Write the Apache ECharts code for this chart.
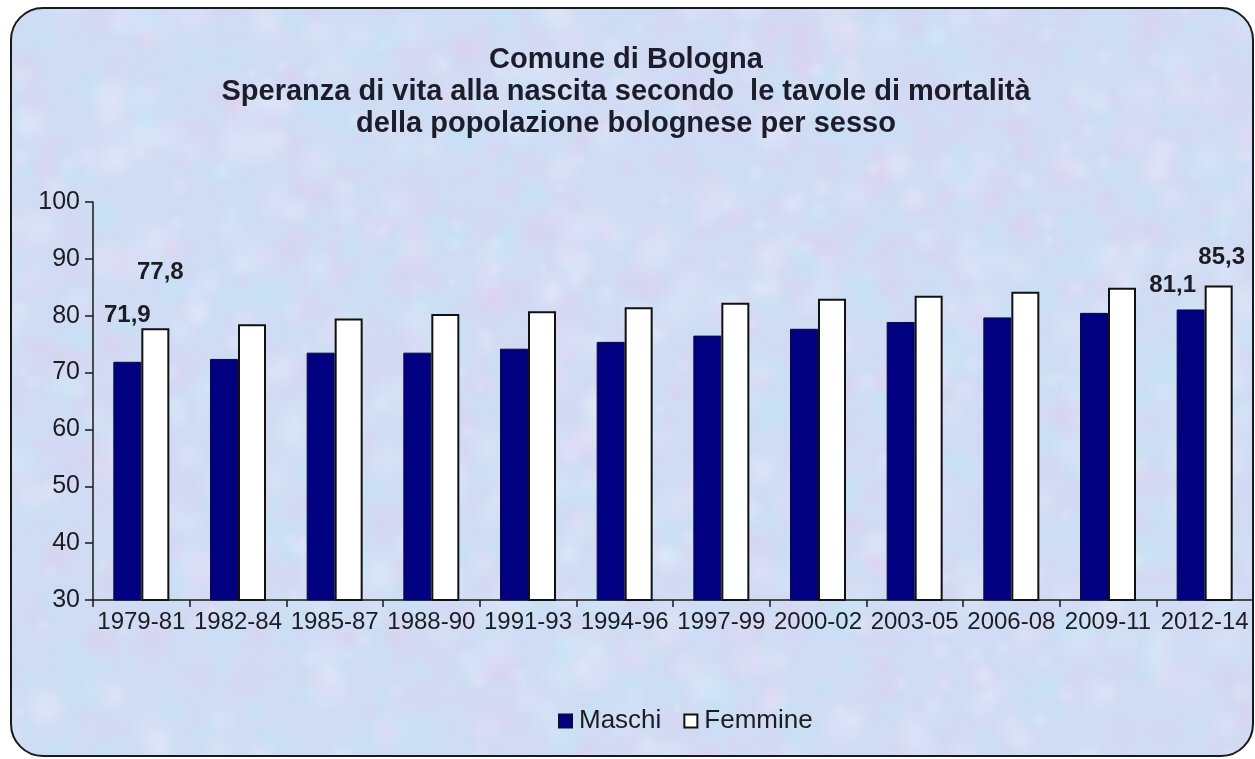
<!DOCTYPE html>
<html>
<head>
<meta charset="utf-8">
<title>Speranza di vita - Bologna</title>
<script src="https://cdn.jsdelivr.net/npm/echarts@6/dist/echarts.min.js"></script>
<style>
    html, body { margin: 0; padding: 0; background: #fff; }
    #main { width: 1255px; height: 759px; }
</style>
</head>
<body>
<div id="main"></div>
<script>
    'use strict';

    var periodi = ['1979-81', '1982-84', '1985-87', '1988-90', '1991-93', '1994-96',
                   '1997-99', '2000-02', '2003-05', '2006-08', '2009-11', '2012-14'];
    var maschi = [71.9, 72.4, 73.5, 73.5, 74.2, 75.4, 76.5, 77.7, 78.9, 79.7, 80.5, 81.1];
    var femmine = [77.8, 78.5, 79.5, 80.3, 80.8, 81.5, 82.3, 83.0, 83.5, 84.2, 84.9, 85.3];
    var yTicks = [30, 40, 50, 60, 70, 80, 90, 100];

    // sfondo "marmorizzato" tipo Excel, solo decorazione
    function makeTexture() {
        var c = document.createElement('canvas');
        c.width = 1255; c.height = 759;
        var ctx = c.getContext('2d');
        ctx.fillStyle = '#cfdcf3';
        ctx.fillRect(0, 0, c.width, c.height);
        var tints = ['rgba(228,204,238,A)', 'rgba(188,232,246,A)',
                     'rgba(212,216,246,A)', 'rgba(236,238,252,A)'];
        function h(n) {
            var s = Math.sin(n * 12.9898) * 43758.5453;
            return s - Math.floor(s);
        }
        for (var i = 0; i < 2600; i++) {
            var x = h(i + 1) * c.width;
            var y = h(i + 7001) * c.height;
            var r = 6 + h(i + 3003) * 22;
            var g = ctx.createRadialGradient(x, y, 0, x, y, r);
            var col = tints[i % tints.length];
            g.addColorStop(0, col.replace('A', '0.3'));
            g.addColorStop(1, col.replace('A', '0'));
            ctx.fillStyle = g;
            ctx.beginPath();
            ctx.arc(x, y, r, 0, Math.PI * 2);
            ctx.fill();
        }
        return c;
    }

    function fmt(p) {
        return p.value.toFixed(1).replace('.', ',');
    }

    // etichette solo sul primo e sull'ultimo periodo
    var labelOffsets = {
        maschi: { first: [0, -29], last: [-18, -7] },
        femmine: { first: [5, -39], last: [3, -11] }
    };
    function buildData(values, key) {
        return values.map(function (v, i) {
            var item = { value: v };
            if (i === 0 || i === values.length - 1) {
                item.label = {
                    show: true,
                    position: 'top',
                    offset: i === 0 ? labelOffsets[key].first : labelOffsets[key].last
                };
            }
            return item;
        });
    }

    var labelStyle = {
        formatter: fmt,
        fontFamily: 'Liberation Sans, Arial, sans-serif',
        fontSize: 24,
        fontWeight: 'bold',
        color: '#1c1c24'
    };

    var myChart = echarts.init(document.getElementById('main'));
    var option = {
        backgroundColor: '#ffffff',
        animation: false,
        textStyle: { fontFamily: 'Liberation Sans, Arial, sans-serif' },
        graphic: [{
            type: 'rect',
            z: -10,
            silent: true,
            shape: { x: 11, y: 8, width: 1242, height: 748, r: 32 },
            style: {
                fill: { image: makeTexture(), repeat: 'no-repeat' },
                stroke: '#1a1a1a',
                lineWidth: 2
            }
        }],
        title: {
            text: 'Comune di Bologna\nSperanza di vita alla nascita secondo  le tavole di mortalità\ndella popolazione bolognese per sesso',
            left: 626,
            top: 44,
            padding: 0,
            textAlign: 'center',
            textStyle: {
                fontFamily: 'Liberation Sans, Arial, sans-serif',
                fontSize: 29,
                fontWeight: 'bold',
                lineHeight: 32,
                color: '#1c1c2a'
            }
        },
        legend: {
            left: 553,
            top: 703,
            itemWidth: 13,
            itemHeight: 13,
            itemGap: 22,
            icon: 'rect',
            textStyle: {
                fontSize: 26,
                color: '#1c1c24',
                padding: [0, 0, 0, 2]
            },
            data: ['Maschi', 'Femmine']
        },
        grid: {
            left: 93,
            right: 2,
            top: 202,
            bottom: 159
        },
        xAxis: {
            type: 'category',
            data: periodi,
            axisLine: { lineStyle: { color: '#1a1a1a', width: 1.5 } },
            axisTick: { show: true, length: 7, lineStyle: { color: '#1a1a1a', width: 1.5 } },
            axisLabel: {
                interval: 0,
                fontSize: 24,
                color: '#1c1c24',
                margin: 10
            }
        },
        yAxis: {
            type: 'value',
            min: yTicks[0],
            max: yTicks[yTicks.length - 1],
            interval: 10,
            splitLine: { show: false },
            axisLine: { show: true, lineStyle: { color: '#1a1a1a', width: 1.5 } },
            axisTick: { show: true, length: 8, lineStyle: { color: '#1a1a1a', width: 1.5 } },
            axisLabel: {
                fontSize: 25,
                color: '#1c1c24',
                margin: 13
            }
        },
        series: [{
            name: 'Maschi',
            type: 'bar',
            barWidth: 28,
            barGap: '0%',
            data: buildData(maschi, 'maschi'),
            itemStyle: { color: '#000080', borderColor: '#0a0a40', borderWidth: 1 },
            label: labelStyle
        }, {
            name: 'Femmine',
            type: 'bar',
            barWidth: 28,
            barGap: '0%',
            data: buildData(femmine, 'femmine'),
            itemStyle: { color: '#ffffff', borderColor: '#111111', borderWidth: 2 },
            label: labelStyle
        }]
    };
    myChart.setOption(option);
</script>
</body>
</html>
